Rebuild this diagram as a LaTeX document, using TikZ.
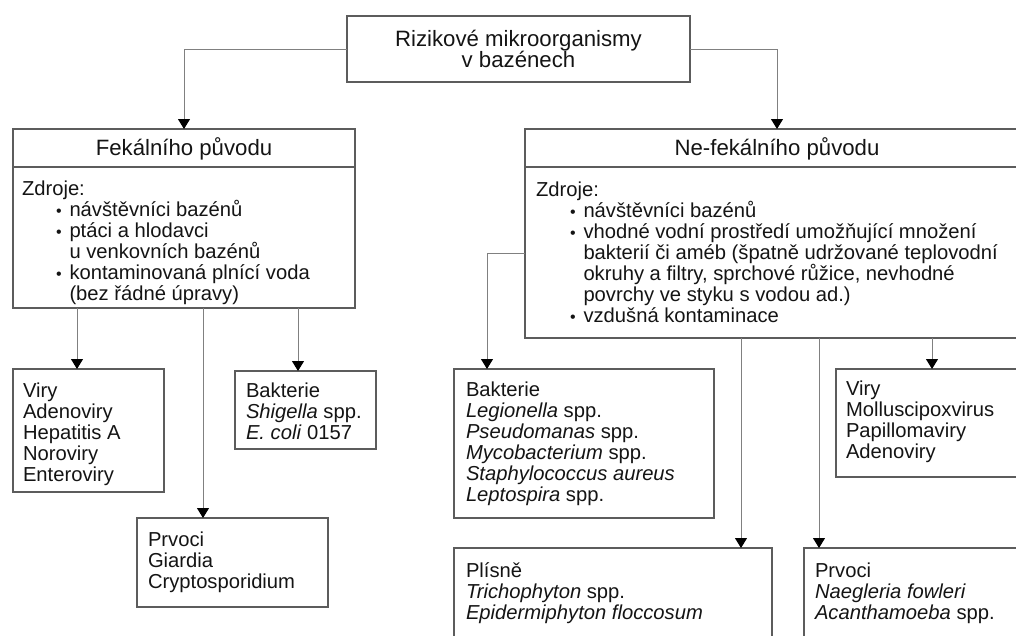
\documentclass[tikz,border=0pt]{standalone}
\usepackage{fontspec}
\setmainfont{Liberation Sans}
\usetikzlibrary{arrows.meta}
\newcommand\fl{\rule{0pt}{17pt}}
\newcommand\bul{\hspace*{34pt}\makebox[13.5pt][l]{\fontsize{16}{16}\selectfont •}}
\newcommand\ind{\hspace*{47.5pt}}
\tikzset{
  box/.style={draw=black!64, line width=1.3pt, inner sep=0pt, outer sep=0pt, anchor=north west},
  txt/.style={inner sep=0pt, outer sep=0pt, anchor=north west, align=left,
              font=\fontsize{20.2}{21}\selectfont, text=black!92},
  head/.style={inner sep=0pt, outer sep=0pt, anchor=center, align=center,
              font=\fontsize{22.2}{22}\selectfont, text=black!92},
  conn/.style={draw=black!50, line width=1pt, -{Triangle[width=12pt,length=10pt,black]}},
  divline/.style={draw=black!64, line width=1.3pt},
}
\begin{document}
\begin{tikzpicture}[x=1pt,y=-1pt]
\useasboundingbox (0,0) rectangle (1016,635);
\clip (0,0) rectangle (1016,635);
% boxes
\node[box, minimum width=343pt, minimum height=66pt, align=center,
      font=\fontsize{22.2}{21.5}\selectfont, text=black!92] (top) at (347,16)
      {Rizikové mikroorganismy\\v bazénech};
\node[box, minimum width=342pt, minimum height=179pt] (fekal) at (13,129) {};
\node[box, minimum width=504pt, minimum height=209pt] (nefekal) at (525,129) {};
\node[box, minimum width=151pt, minimum height=123pt] (viryL) at (13,369) {};
\node[box, minimum width=141pt, minimum height=78pt] (bakL) at (235,371) {};
\node[box, minimum width=191pt, minimum height=89pt] (prvociL) at (137,518) {};
\node[box, minimum width=260pt, minimum height=149pt] (bakR) at (454,369) {};
\node[box, minimum width=200pt, minimum height=108pt] (viryR) at (836,369) {};
\node[box, minimum width=318pt, minimum height=110pt] (plisne) at (454,548) {};
\node[box, minimum width=230pt, minimum height=110pt] (prvociR) at (804,548) {};
% header dividers
\draw[divline] ([yshift=-38pt]fekal.north west) -- ([yshift=-38pt]fekal.north east);
\draw[divline] ([yshift=-38pt]nefekal.north west) -- ([yshift=-38pt]nefekal.north east);
% headers
\node[head] (fekalH) at ([yshift=-19.5pt]fekal.north) {Fekálního původu};
\node[head] (nefekalH) at ([yshift=-19.5pt]nefekal.north) {Ne-fekálního původu};
% texts
\node[txt] (fekalT) at (22,178) {\fl Zdroje:\\
  \bul návštěvníci bazénů\\
  \bul ptáci a hlodavci\\
  \ind u venkovních bazénů\\
  \bul kontaminovaná plnící voda\\
  \ind (bez řádné úpravy)};
\node[txt] (nefekalT) at (536,179) {\fl Zdroje:\\
  \bul návštěvníci bazénů\\
  \bul vhodné vodní prostředí umožňující množení\\
  \ind bakterií či améb (špatně udržované teplovodní\\
  \ind okruhy a filtry, sprchové růžice, nevhodné\\
  \ind povrchy ve styku s vodou ad.)\\
  \bul vzdušná kontaminace};
\node[txt] (viryLT) at (23,380) {\fl Viry\\Adenoviry\\Hepatitis A\\Noroviry\\Enteroviry};
\node[txt] (bakLT) at (246,380) {\fl Bakterie\\\textit{Shigella} spp.\\\textit{E. coli} 0157};
\node[txt] (prvociLT) at (148,529) {\fl Prvoci\\Giardia\\Cryptosporidium};
\node[txt] (bakRT) at (466,379) {\fl Bakterie\\\textit{Legionella} spp.\\\textit{Pseudomanas} spp.\\\textit{Mycobacterium} spp.\\\textit{Staphylococcus aureus}\\\textit{Leptospira} spp.};
\node[txt] (viryRT) at (846,378) {\fl Viry\\Molluscipoxvirus\\Papillomaviry\\Adenoviry};
\node[txt] (plisneT) at (466,560) {\fl Plísně\\\textit{Trichophyton} spp.\\\textit{Epidermiphyton floccosum}};
\node[txt] (prvociRT) at (815,560) {\fl Prvoci\\\textit{Naegleria fowleri}\\\textit{Acanthamoeba} spp.};
% connectors
\draw[conn] (top.west) -| (fekal.north);
\draw[conn] (top.east) -| (nefekal.north);
\draw[conn] ([xshift=-11.5pt]viryL.north |- fekal.south) -- ([xshift=-11.5pt]viryL.north);
\draw[conn] ([xshift=-29.5pt]prvociL.north |- fekal.south) -- ([xshift=-29.5pt]prvociL.north);
\draw[conn] ([xshift=-7.5pt]bakL.north |- fekal.south) -- ([xshift=-7.5pt]bakL.north);
\draw[conn] ([yshift=-19.5pt]nefekal.west) -| ([xshift=-97pt]bakR.north);
\draw[conn] ([xshift=128pt]plisne.north |- nefekal.south) -- ([xshift=128pt]plisne.north);
\draw[conn] ([xshift=-100pt]prvociR.north |- nefekal.south) -- ([xshift=-100pt]prvociR.north);
\draw[conn] ([xshift=-4pt]viryR.north |- nefekal.south) -- ([xshift=-4pt]viryR.north);
\end{tikzpicture}
\end{document}
